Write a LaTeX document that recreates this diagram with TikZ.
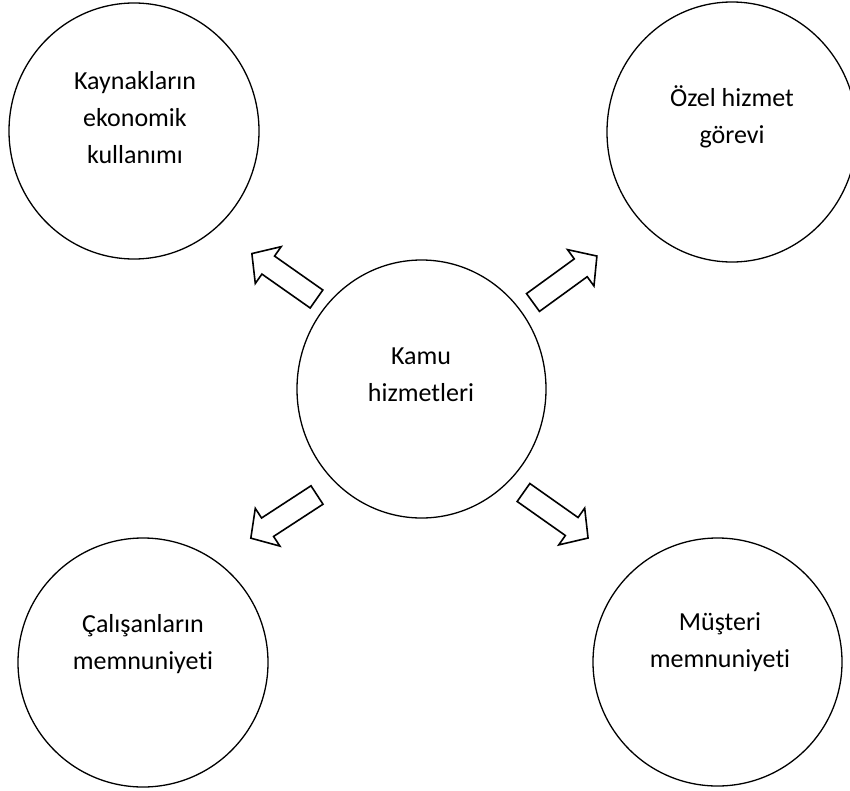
\documentclass[tikz,border=0pt]{standalone}
\usepackage{fontspec}
\setmainfont{Carlito}[Ligatures={NoCommon}]
\usetikzlibrary{shapes.geometric}
\begin{document}
\begin{tikzpicture}[x=1bp,y=-1bp,
  bubble/.style={draw, ellipse, line width=1.3bp, inner sep=0pt},
  lbl/.style={anchor=base, align=center, inner sep=0pt, font=\fontsize{26bp}{37bp}\selectfont},
  blockarrow/.pic={\draw[line width=1.6bp, line join=miter, fill=white]
     (0,-11) -- (59,-11) -- (59,-22.5) -- (79,0) -- (59,22.5) -- (59,11) -- (0,11) -- cycle;}]
\useasboundingbox (0,0) rectangle (850,791);
\fill[white] (0,0) rectangle (850,791);
% circles
\node[bubble, minimum width=250bp, minimum height=256bp] (res) at (134,131) {};
\node[bubble, minimum width=250bp, minimum height=260bp] (ozel) at (732,132) {};
\node[bubble, minimum width=249bp, minimum height=258bp] (kamu) at (421.5,389) {};
\node[bubble, minimum width=250bp, minimum height=249bp] (cal) at (143,662.5) {};
\node[bubble, minimum width=249bp, minimum height=248bp] (mus) at (717.5,662) {};
% labels (anchor base = baseline of last line)
\node[lbl] (t1) at (135,163.5) {Kaynakların\\ekonomik\\kullanımı};
\node[lbl] (t2) at (732,143.5) {Özel hizmet\\görevi};
\node[lbl] (t0) at (421,401) {Kamu\\hizmetleri};
\node[lbl] (t3) at (143,669) {Çalışanların\\memnuniyeti};
\node[lbl] (t4) at (720,667) {Müşteri\\memnuniyeti};
% block arrows
\pic (a1) [rotate=144.9] at (316.5,299) {blockarrow};
\pic (a2) [rotate=36] at (533,302.5) {blockarrow};
\pic (a3) [rotate=-146.9] at (317,495) {blockarrow};
\pic (a4) [rotate=-35.2] at (523.5,492.5) {blockarrow};
\end{tikzpicture}
\end{document}
